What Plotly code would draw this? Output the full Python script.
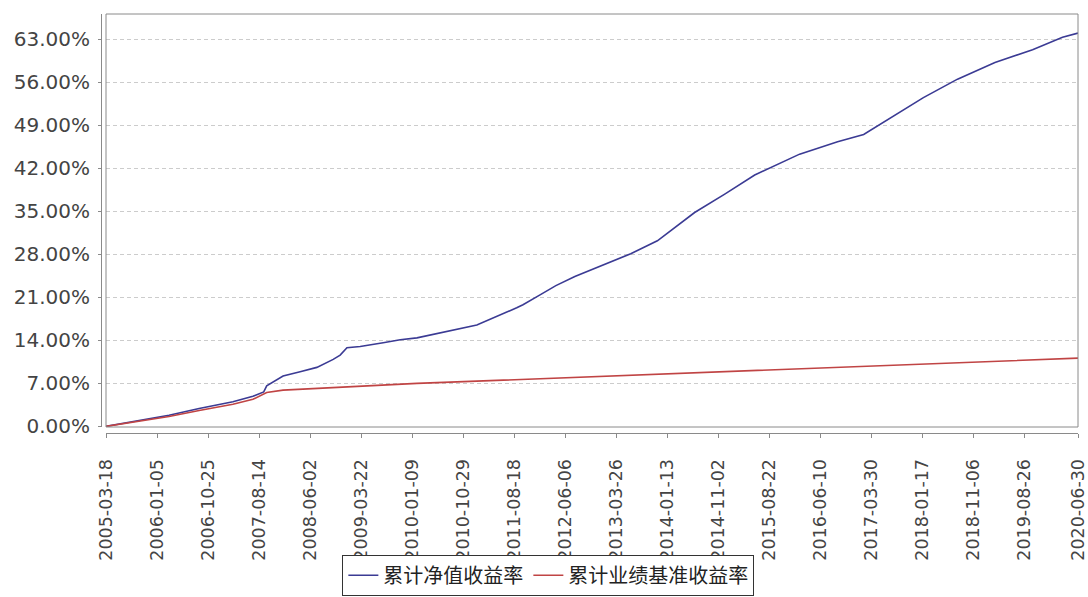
import plotly.graph_objects as go

# ---- data ----
nav_dates = [
    "2005-03-18", "2005-09-15", "2006-03-15", "2006-09-04", "2007-03-17",
    "2007-07-10", "2007-09-10", "2007-09-27", "2007-12-30", "2008-04-06",
    "2008-07-11", "2008-10-13", "2008-11-22", "2008-12-31", "2009-03-17",
    "2009-07-27", "2009-11-02", "2010-02-06", "2010-08-16", "2011-01-16",
    "2011-09-02", "2011-10-08", "2012-01-14", "2012-03-11", "2012-04-14",
    "2012-08-01", "2013-06-18", "2013-11-18", "2014-06-20", "2014-12-10",
    "2015-05-31", "2016-02-13", "2016-09-18", "2017-02-15", "2017-08-06",
    "2018-01-24", "2018-08-08", "2019-03-11", "2019-10-13", "2020-04-02",
    "2020-06-30",
]
nav_return = [
    0.0, 0.9, 1.8, 2.9, 4.0,
    4.9, 5.6, 6.6, 8.2, 8.9,
    9.6, 10.9, 11.6, 12.8, 13.0,
    13.6, 14.1, 14.4, 15.6, 16.5,
    19.3, 19.8, 21.4, 22.4, 22.9,
    24.4, 28.1, 30.2, 34.8, 37.8,
    40.9, 44.3, 46.3, 47.5, 50.5,
    53.5, 56.5, 59.2, 61.3, 63.3,
    64.0,
]

bench_dates = [
    "2005-03-18", "2005-09-15", "2006-03-15", "2006-09-04", "2007-03-17",
    "2007-07-10", "2007-09-27", "2007-12-30", "2008-07-11", "2009-01-15",
    "2009-07-27", "2010-02-06", "2010-08-16", "2011-02-21", "2011-09-02",
    "2012-03-11", "2012-06-06", "2013-03-26", "2014-01-13", "2014-11-02",
    "2015-08-22", "2016-06-10", "2017-03-30", "2018-01-17", "2018-11-06",
    "2019-08-26", "2020-06-30",
]
bench_return = [
    0.0, 0.8, 1.6, 2.6, 3.6,
    4.4, 5.5, 5.9, 6.2, 6.5,
    6.8, 7.0, 7.2, 7.4, 7.7,
    7.9, 8.0, 8.3, 8.6, 8.9,
    9.2, 9.5, 9.8, 10.1, 10.4,
    10.7, 11.1,
]

x_ticks = [
    "2005-03-18", "2006-01-05", "2006-10-25", "2007-08-14", "2008-06-02",
    "2009-03-22", "2010-01-09", "2010-10-29", "2011-08-18", "2012-06-06",
    "2013-03-26", "2014-01-13", "2014-11-02", "2015-08-22", "2016-06-10",
    "2017-03-30", "2018-01-17", "2018-11-06", "2019-08-26", "2020-06-30",
]
y_ticks = [0, 7, 14, 21, 28, 35, 42, 49, 56, 63]

series_names = ["累计净值收益率", "累计业绩基准收益率"]

# ---- figure ----
fig = go.Figure()
fig.add_trace(go.Scatter(
    x=nav_dates, y=nav_return, mode="lines", name=series_names[0],
    line=dict(color="#3b3b94", width=1.6),
))
fig.add_trace(go.Scatter(
    x=bench_dates, y=bench_return, mode="lines", name=series_names[1],
    line=dict(color="#c04444", width=1.6),
))

axis_col = "#8a8a8a"

fig.update_layout(
    width=1088, height=597,
    margin=dict(l=101, r=10, t=14, b=164, autoexpand=False),
    paper_bgcolor="white", plot_bgcolor="white",
    xaxis=dict(
        type="date",
        domain=[5 / 977, 1],
        anchor="free", position=0,
        automargin=False,
        range=["2005-03-18", "2020-06-30"],
        tickvals=x_ticks, ticktext=x_ticks,
        tickangle=-90,
        ticks="outside", ticklen=4, tickcolor=axis_col,
        showline=True, linecolor=axis_col, linewidth=1,
        showgrid=False, zeroline=False,
        tickfont=dict(family="DejaVu Sans", size=17.5, color="#444444"),
        ticklabelstandoff=14,
    ),
    yaxis=dict(
        domain=[6 / 419, 1],
        anchor="free", position=0,
        automargin=False,
        range=[-0.1, 67.1],
        tickvals=y_ticks,
        ticktext=[f"{v:.2f}%" for v in y_ticks],
        ticks="outside", ticklen=3, tickcolor=axis_col,
        showline=True, linecolor=axis_col, linewidth=1,
        showgrid=True, gridcolor="#cccccc", griddash="4px,3px", gridwidth=1,
        zeroline=False,
        tickfont=dict(family="DejaVu Sans", size=20, color="#444444"),
        ticklabelstandoff=4,
    ),
    legend=dict(
        orientation="h",
        xref="container", yref="container",
        x=0.504, xanchor="center",
        y=0.002, yanchor="bottom",
        font=dict(family="Noto Sans CJK SC", size=20, color="#222222"),
        bordercolor="#333333", borderwidth=1,
        bgcolor="white",
        itemwidth=30,
        tracegroupgap=0,
    ),
    shapes=[dict(
        type="rect", xref="x domain", yref="y domain",
        x0=0, x1=1, y0=0, y1=1,
        line=dict(color="#8a8a8a", width=1),
        layer="above",
    )],
)

fig.write_html(
    "out.html",
    config={"displayModeBar": False},
    post_script="document.body.style.margin='0';document.body.style.overflow='hidden';",
)
